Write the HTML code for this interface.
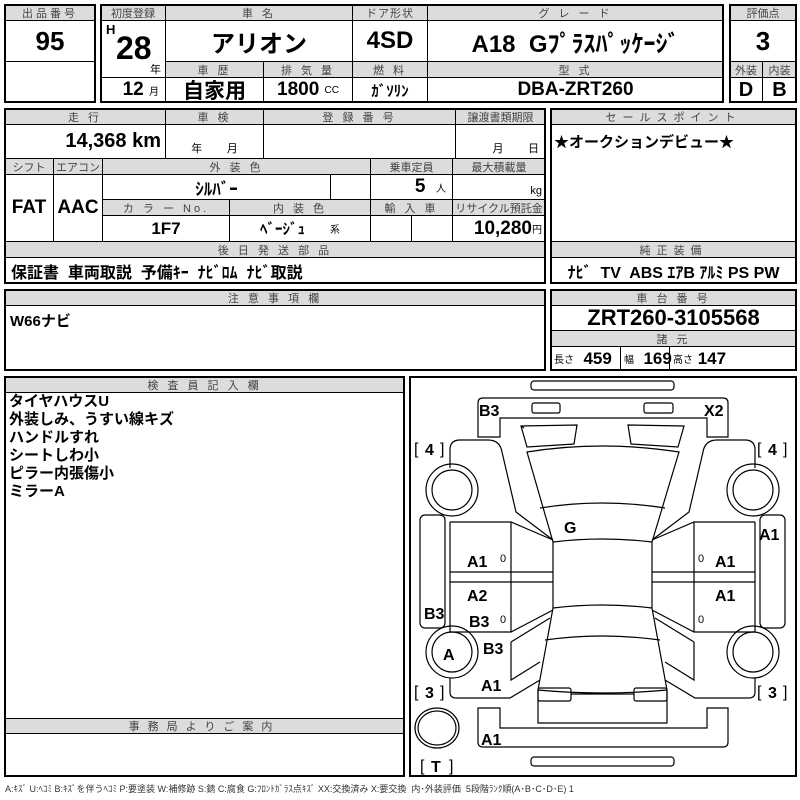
<!DOCTYPE html>
<html><head><meta charset="utf-8"><style>
body{margin:0;width:800px;height:800px;background:#fff;position:relative;overflow:hidden;font-family:"Liberation Sans","Noto Sans CJK JP",sans-serif;}
div{position:absolute;box-sizing:border-box;}
.c{border:1px solid #000;display:flex;align-items:center;justify-content:center;white-space:nowrap;}
.h{background:#dcdcdc;color:#444;font-size:11px;letter-spacing:3px;border:1px solid #000;display:flex;align-items:center;justify-content:center;white-space:nowrap;}
.b{border:2px solid #000;}
.v{font-weight:bold;color:#000;}
.s{font-size:10px;font-weight:normal;}
</style></head><body>
<!-- Box 1 -->
<div class="h" style="left:4px;top:4px;width:92px;height:17px">出品番号</div>
<div class="c v" style="left:4px;top:20px;width:92px;height:42px;font-size:26px">95</div>
<div class="c" style="left:4px;top:61px;width:92px;height:42px"></div>
<div class="b" style="left:4px;top:4px;width:92px;height:99px"></div>
<!-- Box 2 -->
<div class="h" style="left:100px;top:4px;width:66px;height:17px;letter-spacing:0">初度登録</div>
<div class="h" style="left:165px;top:4px;width:188px;height:17px">車 名</div>
<div class="h" style="left:352px;top:4px;width:76px;height:17px;letter-spacing:1px">ドア形状</div>
<div class="h" style="left:427px;top:4px;width:297px;height:17px">グ レ ー ド</div>
<div class="c" style="left:100px;top:20px;width:66px;height:58px"></div>
<div class="v" style="left:106px;top:22px;font-size:13px">H</div>
<div class="v" style="left:116px;top:30px;font-size:32px">28</div>
<div style="left:150px;top:61px;font-size:11px">年</div>
<div class="c v" style="left:165px;top:20px;width:188px;height:42px;font-size:24px">アリオン</div>
<div class="c v" style="left:352px;top:20px;width:76px;height:42px;font-size:24px">4SD</div>
<div class="c v" style="left:427px;top:20px;width:297px;height:42px;font-size:24px">A18&nbsp; Gﾌﾟﾗｽﾊﾟｯｹｰｼﾞ</div>
<div class="h" style="left:165px;top:61px;width:99px;height:17px">車 歴</div>
<div class="h" style="left:263px;top:61px;width:90px;height:17px">排 気 量</div>
<div class="h" style="left:352px;top:61px;width:76px;height:17px">燃 料</div>
<div class="h" style="left:427px;top:61px;width:297px;height:17px">型 式</div>
<div class="c v" style="left:100px;top:77px;width:66px;height:26px;font-size:19px;justify-content:flex-end;padding-right:6px">12&nbsp;<span class="s">月</span></div>
<div class="c v" style="left:165px;top:77px;width:99px;height:26px;font-size:21px">自家用</div>
<div class="c v" style="left:263px;top:77px;width:90px;height:26px;font-size:19px">1800&nbsp;<span class="s">CC</span></div>
<div class="c v" style="left:352px;top:77px;width:76px;height:26px;font-size:15px">ｶﾞｿﾘﾝ</div>
<div class="c v" style="left:427px;top:77px;width:297px;height:26px;font-size:19px">DBA-ZRT260</div>
<div class="b" style="left:100px;top:4px;width:624px;height:99px"></div>
<!-- Box 3 -->
<div class="h" style="left:729px;top:4px;width:68px;height:17px;letter-spacing:0">評価点</div>
<div class="c v" style="left:729px;top:20px;width:68px;height:42px;font-size:26px">3</div>
<div class="h" style="left:729px;top:61px;width:34px;height:17px;letter-spacing:0">外装</div>
<div class="h" style="left:762px;top:61px;width:35px;height:17px;letter-spacing:0">内装</div>
<div class="c v" style="left:729px;top:77px;width:34px;height:26px;font-size:20px">D</div>
<div class="c v" style="left:762px;top:77px;width:35px;height:26px;font-size:20px">B</div>
<div class="b" style="left:729px;top:4px;width:68px;height:99px"></div>
<!-- Section 2 -->
<div class="h" style="left:4px;top:108px;width:162px;height:17px">走 行</div>
<div class="h" style="left:165px;top:108px;width:99px;height:17px">車 検</div>
<div class="h" style="left:263px;top:108px;width:193px;height:17px">登 録 番 号</div>
<div class="h" style="left:455px;top:108px;width:91px;height:17px;letter-spacing:0">譲渡書類期限</div>
<div class="c v" style="left:4px;top:124px;width:162px;height:35px;font-size:20px;justify-content:flex-end;padding-right:4px">14,368 km</div>
<div class="c" style="left:165px;top:124px;width:99px;height:35px;font-size:11px;align-items:flex-end;padding-bottom:2px">年&nbsp;&nbsp;&nbsp;&nbsp;&nbsp;&nbsp;&nbsp;&nbsp;月</div>
<div class="c" style="left:263px;top:124px;width:193px;height:35px"></div>
<div class="c" style="left:455px;top:124px;width:91px;height:35px;font-size:11px;align-items:flex-end;padding-bottom:2px;justify-content:flex-end;padding-right:6px">月&nbsp;&nbsp;&nbsp;&nbsp;&nbsp;&nbsp;&nbsp;&nbsp;日</div>
<div class="h" style="left:4px;top:158px;width:50px;height:17px;letter-spacing:0">シフト</div>
<div class="h" style="left:53px;top:158px;width:50px;height:17px;letter-spacing:0">エアコン</div>
<div class="h" style="left:102px;top:158px;width:269px;height:17px">外 装 色</div>
<div class="h" style="left:370px;top:158px;width:83px;height:17px;letter-spacing:0">乗車定員</div>
<div class="h" style="left:452px;top:158px;width:94px;height:17px;letter-spacing:0">最大積載量</div>
<div class="c v" style="left:4px;top:174px;width:50px;height:68px;font-size:19px">FAT</div>
<div class="c v" style="left:53px;top:174px;width:50px;height:68px;font-size:19px">AAC</div>
<div class="c v" style="left:102px;top:174px;width:229px;height:26px;font-size:17px">ｼﾙﾊﾞｰ</div>
<div class="c" style="left:330px;top:174px;width:41px;height:26px"></div>
<div class="c v" style="left:370px;top:174px;width:83px;height:26px;font-size:19px;justify-content:flex-end;padding-right:6px">5&nbsp;&nbsp;<span class="s">人</span></div>
<div class="c" style="left:452px;top:174px;width:94px;height:26px;font-size:11px;justify-content:flex-end;align-items:flex-end;padding:0 3px 2px 0">kg</div>
<div class="h" style="left:102px;top:199px;width:128px;height:17px">カ ラ ー No.</div>
<div class="h" style="left:229px;top:199px;width:142px;height:17px">内 装 色</div>
<div class="h" style="left:370px;top:199px;width:83px;height:17px">輸 入 車</div>
<div class="h" style="left:452px;top:199px;width:94px;height:17px;letter-spacing:0">リサイクル預託金</div>
<div class="c v" style="left:102px;top:215px;width:128px;height:27px;font-size:17px">1F7</div>
<div class="c v" style="left:229px;top:215px;width:142px;height:27px;font-size:15px">ﾍﾞｰｼﾞｭ&nbsp;&nbsp;&nbsp;&nbsp;&nbsp;&nbsp;<span class="s">系</span></div>
<div class="c" style="left:370px;top:215px;width:42px;height:27px"></div>
<div class="c" style="left:411px;top:215px;width:42px;height:27px"></div>
<div class="c v" style="left:452px;top:215px;width:94px;height:27px;font-size:19px;justify-content:flex-end;padding-right:3px">10,280<span class="s">円</span></div>
<div class="h" style="left:4px;top:241px;width:542px;height:17px">後 日 発 送 部 品</div>
<div class="c v" style="left:4px;top:257px;width:542px;height:27px;font-size:16px;justify-content:flex-start;padding-left:6px">保証書&nbsp; 車両取説&nbsp; 予備ｷｰ&nbsp; ﾅﾋﾞﾛﾑ&nbsp; ﾅﾋﾞ取説</div>
<div class="b" style="left:4px;top:108px;width:542px;height:176px"></div>
<div class="h" style="left:550px;top:108px;width:247px;height:17px;letter-spacing:6px">セールスポイント</div>
<div class="c v" style="left:550px;top:124px;width:247px;height:118px;font-size:15px;align-items:flex-start;justify-content:flex-start;padding:6px 0 0 3px">★オークションデビュー★</div>
<div class="h" style="left:550px;top:241px;width:247px;height:17px;letter-spacing:6px">純正装備</div>
<div class="c v" style="left:550px;top:257px;width:247px;height:27px;font-size:16px">ﾅﾋﾞ&nbsp; TV&nbsp; ABS&nbsp;ｴｱB&nbsp;ｱﾙﾐ&nbsp;PS&nbsp;PW</div>
<div class="b" style="left:550px;top:108px;width:247px;height:176px"></div>
<!-- Section 3 -->
<div class="h" style="left:4px;top:289px;width:542px;height:17px">注 意 事 項 欄</div>
<div class="c v" style="left:4px;top:305px;width:542px;height:66px;font-size:15px;align-items:flex-start;justify-content:flex-start;padding:4px 0 0 5px">W66ナビ</div>
<div class="b" style="left:4px;top:289px;width:542px;height:82px"></div>
<div class="h" style="left:550px;top:289px;width:247px;height:17px">車 台 番 号</div>
<div class="c v" style="left:550px;top:305px;width:247px;height:26px;font-size:22px">ZRT260-3105568</div>
<div class="h" style="left:550px;top:330px;width:247px;height:17px">諸 元</div>
<div class="c v" style="left:550px;top:346px;width:71px;height:25px;font-size:17px;justify-content:flex-start;padding-left:3px"><span class="s">長さ</span>&nbsp;&nbsp;459</div>
<div class="c v" style="left:620px;top:346px;width:50px;height:25px;font-size:17px;justify-content:flex-start;padding-left:3px"><span class="s">幅</span>&nbsp;&nbsp;169</div>
<div class="c v" style="left:669px;top:346px;width:128px;height:25px;font-size:17px;justify-content:flex-start;padding-left:3px"><span class="s">高さ</span>&nbsp;147</div>
<div class="b" style="left:550px;top:289px;width:247px;height:82px"></div>
<!-- Section 4 -->
<div class="h" style="left:4px;top:376px;width:401px;height:17px">検 査 員 記 入 欄</div>
<div class="v" style="left:9px;top:393px;font-size:15px;line-height:18px">タイヤハウスU<br>外装しみ、うすい線キズ<br>ハンドルすれ<br>シートしわ小<br>ピラー内張傷小<br>ミラーA</div>
<div class="h" style="left:4px;top:718px;width:401px;height:16px;letter-spacing:8px">事務局よりご案内</div>
<div class="b" style="left:4px;top:376px;width:401px;height:401px"></div>
<div class="b" style="left:409px;top:376px;width:388px;height:401px"></div>
<svg style="position:absolute;left:0;top:0" width="800" height="800" fill="none" stroke="#000" stroke-width="1.2">
<rect x="531" y="381" width="143" height="9" rx="3"/>
<path d="M478 437 V403 Q478 398 483 398 H723 Q728 398 728 403 V437 H707 V418 H500 V437 Z"/>
<rect x="532" y="403" width="28" height="10" rx="2"/><rect x="644" y="403" width="29" height="10" rx="2"/>
<path d="M521 426 L577 425 L574 444 L527 447 Z M628 425 L684 426 L678 447 L631 444 Z M521 426 L524 428 M684 426 Z"/>
<path d="M527 452 Q602 440 679 452 L652 542 Q602 536 553 542 Z"/>
<path d="M540 508 Q602 498 665 508"/>
<path d="M450 468 V450 Q450 440 460 440 H488 Q500 440 502 452 L516 512 L553 540"/>
<path d="M755 468 V450 Q755 440 745 440 H717 Q705 440 703 452 L689 512 L652 540"/>
<rect x="420" y="515" width="25" height="113" rx="5"/><rect x="760" y="515" width="25" height="113" rx="5"/>
<path d="M450 522 H511 L553 540 M450 572 H553 M450 582 H553 M450 632 H511 L553 610 M511 522 V632 M450 522 V632"/>
<path d="M755 522 H694 L652 540 M755 572 H652 M755 582 H652 M755 632 H694 L652 610 M694 522 V632 M755 522 V632"/>
<path d="M553 542 V608 M652 542 V608"/>
<path d="M553 608 Q602 602 652 608 L667 690 V723 H538 V690 Z M538 690 Q602 696 667 690 M545 640 Q602 632 660 640"/>
<rect x="538" y="688" width="33" height="13" rx="2"/><rect x="634" y="688" width="33" height="13" rx="2"/><path d="M571 694 H634"/>
<path d="M511 642 L550 618 M511 642 V680 L540 662 M511 680 V678"/>
<path d="M694 642 L655 618 M694 642 V680 L665 662"/>
<path d="M450 678 V692 Q450 698 456 698 H510 L540 680"/><path d="M755 678 V692 Q755 698 749 698 H695 L665 680"/>
<path d="M478 708 V742 Q478 747 483 747 H723 Q728 747 728 742 V708 H707 V728 H500 V708 Z"/>
<rect x="531" y="757" width="143" height="9" rx="3"/>
<circle cx="452" cy="490" r="26"/><circle cx="452" cy="490" r="20"/>
<circle cx="753" cy="490" r="26"/><circle cx="753" cy="490" r="20"/>
<circle cx="452" cy="652" r="26"/><circle cx="452" cy="652" r="20"/>
<circle cx="753" cy="652" r="26"/><circle cx="753" cy="652" r="20"/>
<ellipse cx="437" cy="728" rx="22" ry="20"/><ellipse cx="437" cy="728" rx="19" ry="17"/>
<g stroke="none" fill="#000" font-family="Liberation Sans,sans-serif" font-weight="bold" font-size="16">
<text x="479" y="416">B3</text><text x="704" y="416">X2</text>
<text x="564" y="533">G</text>
<text x="467" y="567">A1</text><text x="715" y="567">A1</text><text x="759" y="540">A1</text>
<text x="467" y="601">A2</text><text x="715" y="601">A1</text>
<text x="424" y="619">B3</text><text x="469" y="627">B3</text><text x="483" y="654">B3</text>
<text x="443" y="660">A</text><text x="481" y="691">A1</text><text x="481" y="745">A1</text>
<text x="414" y="454" font-weight="normal">[ </text><text x="425" y="455">4</text><text x="440" y="454" font-weight="normal">]</text>
<text x="757" y="454" font-weight="normal">[ </text><text x="768" y="455">4</text><text x="783" y="454" font-weight="normal">]</text>
<text x="414" y="697" font-weight="normal">[ </text><text x="425" y="698">3</text><text x="440" y="697" font-weight="normal">]</text>
<text x="757" y="697" font-weight="normal">[ </text><text x="768" y="698">3</text><text x="783" y="697" font-weight="normal">]</text>
<text x="420" y="771" font-weight="normal">[ </text><text x="431" y="772">T</text><text x="449" y="771" font-weight="normal">]</text>
<text x="500" y="562" font-size="11" font-weight="normal">0</text><text x="500" y="623" font-size="11" font-weight="normal">0</text>
<text x="698" y="562" font-size="11" font-weight="normal">0</text><text x="698" y="623" font-size="11" font-weight="normal">0</text>
</g>
</svg>
<div style="left:5px;top:782px;font-size:9px;color:#333;white-space:nowrap">A:ｷｽﾞ U:ﾍｺﾐ B:ｷｽﾞを伴うﾍｺﾐ P:要塗装 W:補修跡 S:錆 C:腐食 G:ﾌﾛﾝﾄｶﾞﾗｽ点ｷｽﾞ XX:交換済み X:要交換&nbsp; 内･外装評価&nbsp; 5段階ﾗﾝｸ順(A･B･C･D･E) 1</div>
</body></html>
